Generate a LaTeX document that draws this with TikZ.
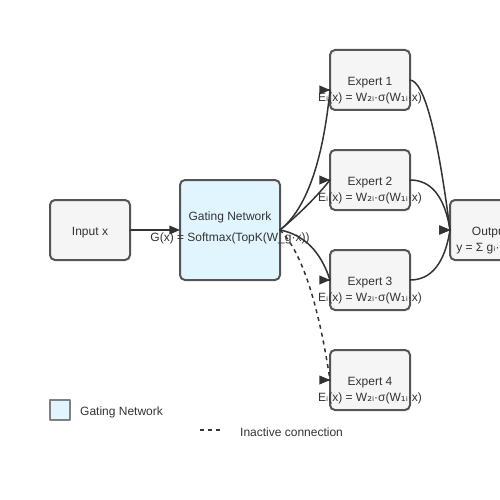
\documentclass[tikz,border=0pt]{standalone}
\usepackage{fontspec}
\setmainfont{Liberation Sans}
\newfontfamily\subfont{DejaVu Sans}
\newcommand\subi{{\subfont ᵢ}}
\newcommand\subone{{\subfont ₁}}
\newcommand\subtwo{{\subfont ₂}}
\usetikzlibrary{arrows,calc}
\definecolor{boxline}{HTML}{555555}
\definecolor{ink}{HTML}{333333}
\definecolor{boxgray}{HTML}{F5F5F5}
\definecolor{gateblue}{HTML}{E1F5FE}
\tikzset{
  box/.style={draw=boxline,line width=2pt,rounded corners=5pt,fill=boxgray,minimum width=80pt,minimum height=60pt,outer sep=0pt,inner sep=0pt},
  gatebox/.style={box,fill=gateblue,minimum width=100pt,minimum height=100pt},
  txt/.style={text=ink,font=\fontsize{12}{14}\selectfont,inner sep=0pt},
  link/.style={draw=ink,line width=1.5pt},
  idle/.style={link,line cap=butt,dash pattern=on 4pt off 4pt}
}
\begin{document}
\begin{tikzpicture}[line cap=round,line join=round,>=triangle 45,x=1pt,y=-1pt]

\clip (0,0) rectangle (500,500);

\node[box] (inp) at (90,230) {};
\node[gatebox] (gate) at (230,230) {};
\node[box] (e1) at (370,80) {};
\node[box] (e2) at (370,180) {};
\node[box] (e3) at (370,280) {};
\node[box] (e4) at (370,380) {};
\node[box] (out) at (490,230) {};

\draw[link,->] (inp) -- (gate);

\draw[link,->] (gate.east) .. controls (306,209.3) and (322.7,162.7) .. ($(e1.west)+(0,10)$) -- +(0.1,0);
\draw[link,->] (gate.east) .. controls (300,213.3) and (316.7,196.7) .. (e2.west) -- +(0.1,0);
\draw[link,->] (gate.east) .. controls (304,234.7) and (320.7,251.3) .. (e3.west) -- +(0.1,0);
\draw[idle,->] (gate.east) .. controls (301.3,251.3) and (318,301.3) .. (e4.west) -- +(0.1,0);

\draw[link,->] (e1.east) .. controls (424,81.3) and (437.3,131.3) .. (out.west) -- +(0.1,0);
\draw[link,->] (e2.east) .. controls (431.3,180) and (444.7,196.7) .. (out.west) -- +(0.1,0);
\draw[link,->] (e3.east) .. controls (431.3,280) and (444.7,263.3) .. (out.west) -- +(0.1,0);

\node[txt] (inptxt) at (90,232.5) {Input x};
\node[txt] (gatetxt) at (230,217.5) {Gating Network};
\node[txt] (gatefx) at (230,238.5) {G(x) = Softmax(TopK(W\_g·x))};
\node[txt] (e1txt) at (370,82.5) {Expert 1};
\node[txt] (e1fx) at (370,98.5) {E\subi(x) = W\subtwo\subi·σ(W\subone\subi·x)};
\node[txt] (e2txt) at (370,182.5) {Expert 2};
\node[txt] (e2fx) at (370,198.5) {E\subi(x) = W\subtwo\subi·σ(W\subone\subi·x)};
\node[txt] (e3txt) at (370,282.5) {Expert 3};
\node[txt] (e3fx) at (370,298.5) {E\subi(x) = W\subtwo\subi·σ(W\subone\subi·x)};
\node[txt] (e4txt) at (370,382.5) {Expert 4};
\node[txt] (e4fx) at (370,398.5) {E\subi(x) = W\subtwo\subi·σ(W\subone\subi·x)};
\node[txt] (outtxt) at (490,232.5) {Output};
\node[txt] (outfx) at (490,248.5) {y = Σ g\subi·E\subi(x)};

\node[draw=gray,line width=1.5pt,fill=gateblue,minimum size=20pt,inner sep=0pt,outer sep=0pt] (key) at (60,410) {};
\node[txt,anchor=west] (keytxt) at (80,412) {Gating Network};
\coordinate (dashl) at (200,430);
\coordinate (dashr) at (220,430);
\draw[idle] (dashl) -- (dashr);
\node[txt,anchor=west] (dashtxt) at (240,432) {Inactive connection};

\end{tikzpicture}
\end{document}
